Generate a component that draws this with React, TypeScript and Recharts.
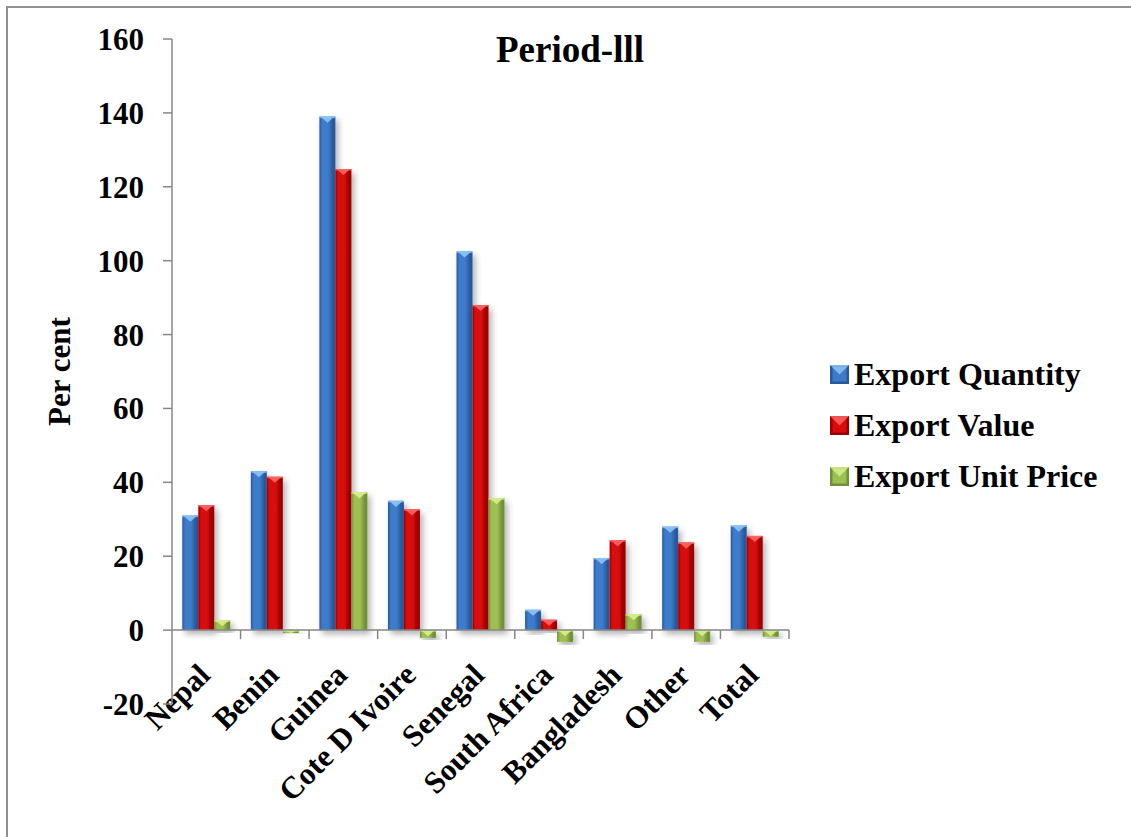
import React from "react"
import { BarChart, Bar, XAxis, YAxis, ReferenceLine, Legend, Label } from "recharts"

const FONT = "'Liberation Serif', 'Times New Roman', serif"
const AXIS_COLOR = "#868686"

const categories = ["Nepal", "Benin", "Guinea", "Cote D Ivoire", "Senegal", "South Africa", "Bangladesh", "Other", "Total"]
const exportQuantity = [31, 43, 139, 35, 102.5, 5.5, 19.5, 28, 28.3]
const exportValue = [33.8, 41.5, 124.8, 32.7, 88, 2.8, 24.3, 23.7, 25.5]
const exportUnitPrice = [2.7, -0.8, 37.3, -2.1, 35.7, -3.2, 4.3, -3.2, -1.8]
const yTicks = [-20, 0, 20, 40, 60, 80, 100, 120, 140, 160]

const SERIES = [
  { key: "quantity", name: "Export Quantity", edge: "#2a5898", mid: "#3c7bcb", tip: "#8cc3f7" },
  { key: "value", name: "Export Value", edge: "#9c0000", mid: "#d80c0c", tip: "#ff6464" },
  { key: "unitPrice", name: "Export Unit Price", edge: "#71903a", mid: "#9ec052", tip: "#d6f08c" },
]

const chartData = categories.map((name, i) => ({
  name,
  quantity: exportQuantity[i],
  value: exportValue[i],
  unitPrice: exportUnitPrice[i],
}))

// bevelled column: shaded body plus a light wedge on its top edge
const makeBevelBar = (s: typeof SERIES[number]) => (props: any) => {
  const { x, y, width, height } = props
  const top = height < 0 ? y + height : y
  const h = Math.abs(height)
  if (!h) return <g />
  const wedge = Math.min(h, width * 0.38)
  return (
    <g filter="url(#barShadow)">
      <rect x={x} y={top} width={width} height={h} fill={`url(#grad-${s.key})`} />
      <rect x={x} y={top} width={width} height={Math.min(1.5, h)} fill={s.tip} opacity={0.8} />
      <polygon
        points={`${x + 1},${top} ${x + width - 1},${top} ${x + width / 2},${top + wedge}`}
        fill={s.tip}
        opacity={0.9}
      />
    </g>
  )
}

// zero line with category separators and slanted names beneath it
const ZeroAxis = (props: any) => {
  const { x1, y1, x2 } = props
  const step = (x2 - x1) / categories.length
  return (
    <g>
      <line x1={x1} y1={y1} x2={x2} y2={y1} stroke={AXIS_COLOR} strokeWidth={1.5} />
      {categories.map((name, i) => {
        const tx = x1 + (i + 1) * step
        const cx = x1 + (i + 0.5) * step
        return (
          <g key={name}>
            <line x1={tx} y1={y1} x2={tx} y2={y1 + 9} stroke={AXIS_COLOR} strokeWidth={1.5} />
            <g transform={`translate(${cx - 2},${y1 + 39}) rotate(-45)`}>
              <text textAnchor="end" dy="0.35em" fontFamily={FONT} fontWeight={700} fontSize={31} fill="#000">
                {name}
              </text>
            </g>
          </g>
        )
      })}
    </g>
  )
}

const LegendIcon = ({ s }: { s: typeof SERIES[number] }) => (
  <svg width={19} height={19} style={{ marginRight: 5, flexShrink: 0 }}>
    <rect x={0} y={0} width={19} height={19} fill={s.edge} />
    <rect x={2.5} y={2.5} width={14} height={14} fill={s.mid} />
    <polygon points="0,0 19,0 9.5,9.5" fill={s.tip} opacity={0.85} />
  </svg>
)

const renderLegend = () => (
  <div style={{ fontFamily: FONT, fontWeight: 700, fontSize: 32, color: "#000" }}>
    {SERIES.map((s) => (
      <div key={s.key} style={{ display: "flex", alignItems: "center", height: 51, lineHeight: "51px", whiteSpace: "nowrap" }}>
        <LegendIcon s={s} />
        <span>{s.name}</span>
      </div>
    ))}
  </div>
)

const YTitle = (props: any) => {
  const { viewBox } = props
  const cx = viewBox.x + 60
  const cy = viewBox.y + viewBox.height / 2
  return (
    <text
      x={cx}
      y={cy}
      dy="0.33em"
      transform={`rotate(-90 ${cx} ${cy})`}
      textAnchor="middle"
      fontFamily={FONT}
      fontWeight={700}
      fontSize={31}
      fill="#000"
    >
      Per cent
    </text>
  )
}

export default function App() {
  return (
    <div style={{ position: "absolute", left: 0, top: 0, width: 1131, height: 837, background: "#fff" }}>
      <div
        style={{
          position: "absolute",
          left: 6,
          top: 6,
          right: 0,
          bottom: 0,
          borderLeft: "2px solid #8f8f8f",
          borderTop: "2px solid #8f8f8f",
        }}
      />
      <BarChart
        width={1131}
        height={837}
        data={chartData}
        margin={{ top: 39, right: 342, bottom: 133, left: 0 }}
        barCategoryGap="15%"
        barGap={0}
        style={{ position: "absolute", left: 0, top: 0 }}
      >
        <defs>
          {SERIES.map((s) => (
            <linearGradient key={s.key} id={`grad-${s.key}`} x1="0" y1="0" x2="1" y2="0">
              <stop offset="0%" stopColor={s.edge} />
              <stop offset="18%" stopColor={s.mid} />
              <stop offset="55%" stopColor={s.mid} />
              <stop offset="85%" stopColor={s.edge} />
              <stop offset="100%" stopColor={s.edge} />
            </linearGradient>
          ))}
          <filter id="barShadow" x="-30%" y="-10%" width="180%" height="130%">
            <feDropShadow dx={3} dy={4} stdDeviation={3} floodColor="#000" floodOpacity={0.3} />
          </filter>
        </defs>
        <text x={570} y={62} textAnchor="middle" fontFamily={FONT} fontWeight={700} fontSize={37} fill="#000">
          Period-lll
        </text>
        <XAxis dataKey="name" hide />
        <YAxis
          width={172}
          domain={[-20, 160]}
          ticks={yTicks}
          interval={0}
          tickSize={9}
          tickMargin={19}
          axisLine={{ stroke: AXIS_COLOR, strokeWidth: 1.5 }}
          tickLine={{ stroke: AXIS_COLOR, strokeWidth: 1.5 }}
          tick={{ fill: "#000", fontFamily: FONT, fontWeight: 700, fontSize: 31 }}
        >
          <Label content={YTitle} />
        </YAxis>
        {SERIES.map((s) => (
          <Bar key={s.key} dataKey={s.key} name={s.name} fill={s.mid} shape={makeBevelBar(s)} isAnimationActive={false} />
        ))}
        <ReferenceLine y={0} shape={ZeroAxis} />
        <Legend
          layout="horizontal"
          align="center"
          verticalAlign="middle"
          content={renderLegend}
          wrapperStyle={{ left: 830, top: 349, width: 300 }}
        />
      </BarChart>
    </div>
  )
}
